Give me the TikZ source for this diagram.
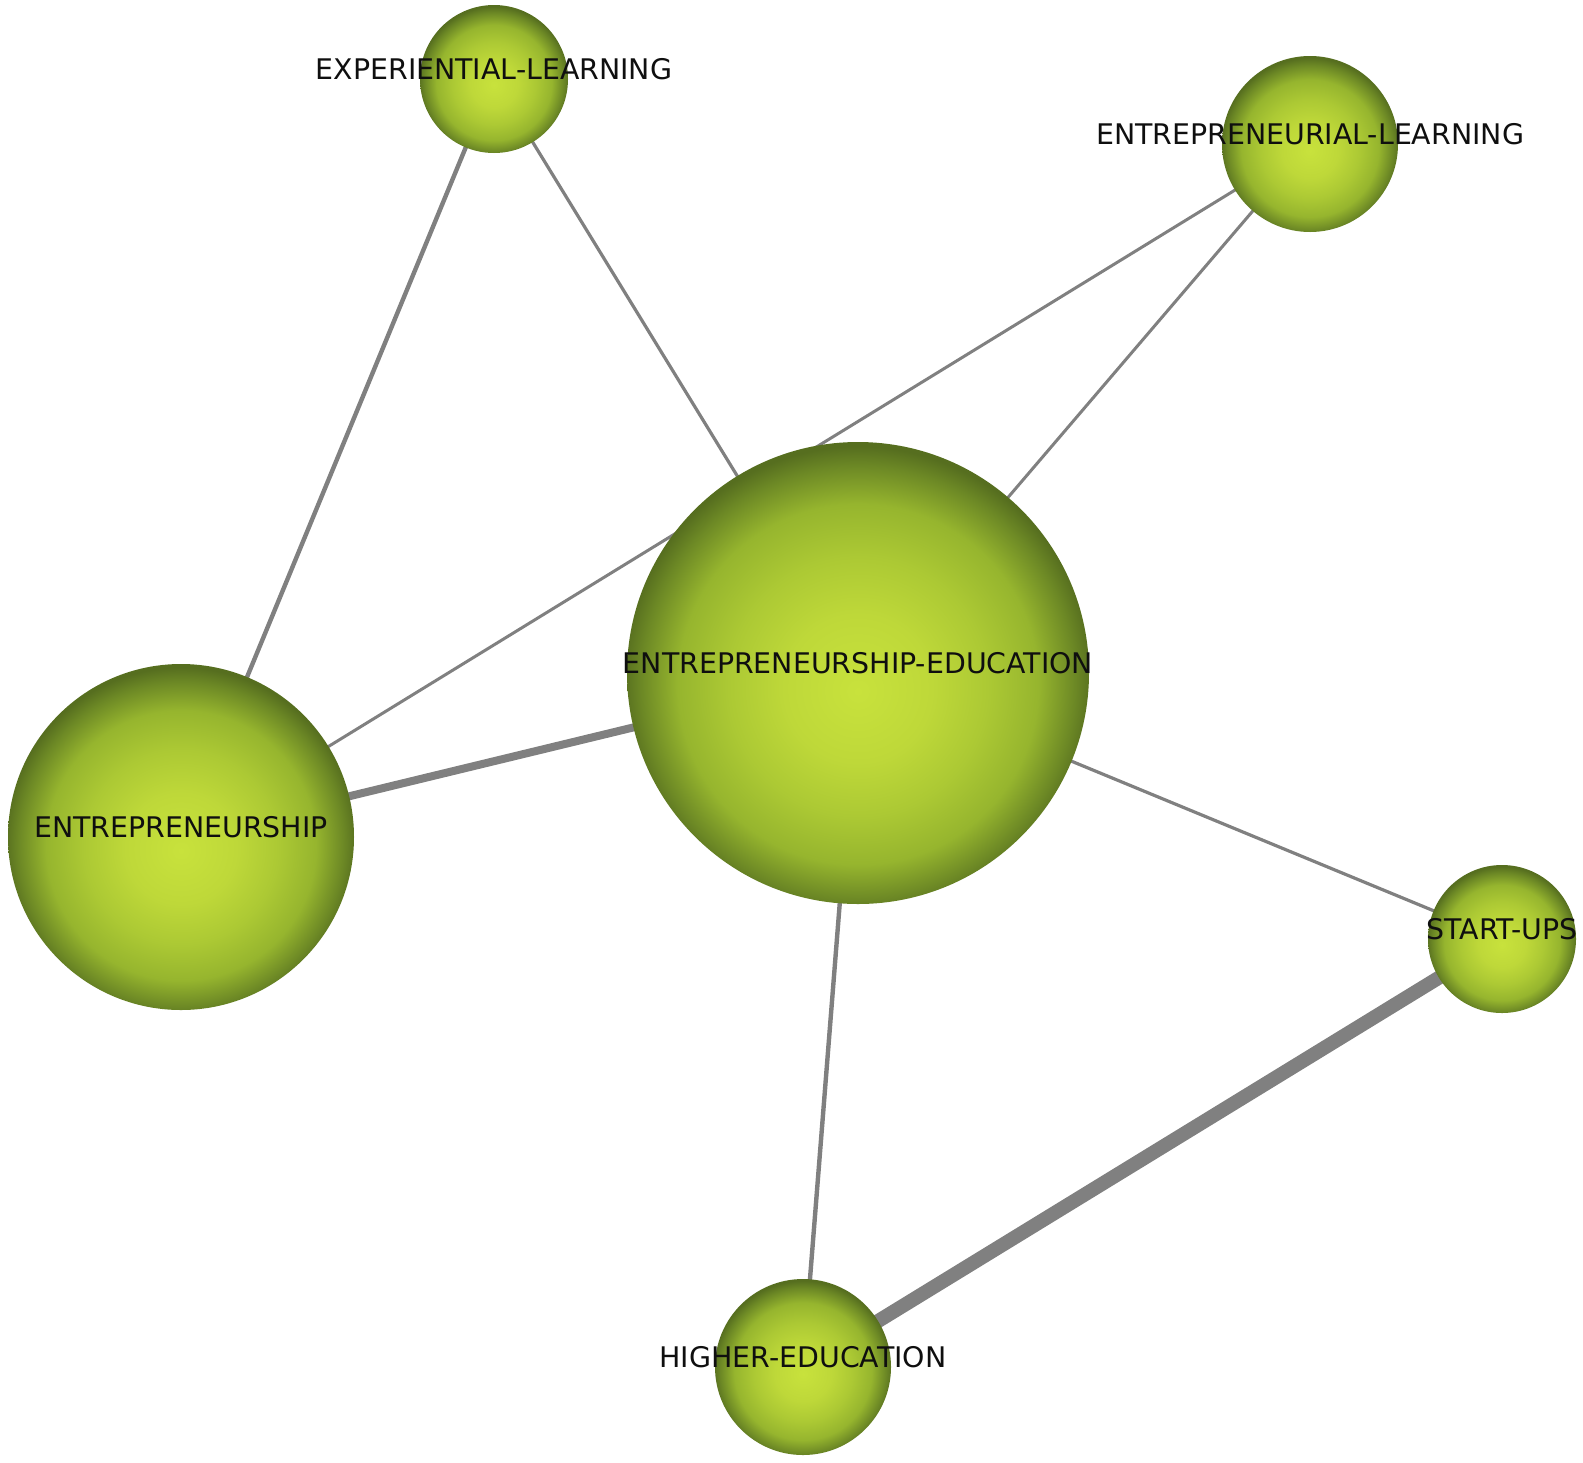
\documentclass[tikz,border=0pt]{standalone}
\usepackage{fontspec}
\setmainfont{DejaVu Sans}
\usetikzlibrary{backgrounds}
\definecolor{bcen}{RGB}{200,226,60}
\definecolor{bone}{RGB}{190,216,57}
\definecolor{bonefive}{RGB}{172,201,52}
\definecolor{btwo}{RGB}{150,181,46}
\definecolor{bthree}{RGB}{108,136,37}
\definecolor{bedge}{RGB}{86,110,31}
\definecolor{edgegray}{RGB}{128,128,128}
\definecolor{labelink}{RGB}{15,15,15}
\pgfdeclareradialshading{ballshade}{\pgfpoint{0bp}{-2bp}}{color(0bp)=(bcen); color(8bp)=(bone); color(14bp)=(bonefive); color(19.5bp)=(btwo); color(23.5bp)=(bthree); color(25.5bp)=(bedge); color(50bp)=(bedge)}
\tikzset{
  ball/.style={circle, inner sep=0pt, outer sep=0pt, shading=ballshade},
  lab/.style={anchor=base, inner sep=0pt, text=labelink, font=\fontsize{14.2pt}{16pt}\selectfont},
  link/.style={draw=edgegray, line cap=butt}
}
\begin{document}
\begin{tikzpicture}[x=0.5pt, y=-0.5pt]
\path[use as bounding box] (0,0) rectangle (1583,1462);
% nodes
\node[ball, minimum size=74pt]  (exp)   at (494,79)   {};
\node[ball, minimum size=88pt]  (entl)  at (1310,144) {};
\node[ball, minimum size=231pt] (ee)    at (858,673)  {};
\node[ball, minimum size=173pt] (entre) at (181,837)  {};
\node[ball, minimum size=74pt]  (start) at (1502,939) {};
\node[ball, minimum size=88pt]  (high)  at (803,1367) {};
% labels
\node[lab] (exp-t)   at (exp.center)   {EXPERIENTIAL-LEARNING};
\node[lab] (entl-t)  at (entl.center)  {ENTREPRENEURIAL-LEARNING};
\node[lab] (ee-t)    at (ee.center)    {ENTREPRENEURSHIP-EDUCATION};
\node[lab] (entre-t) at (entre.center) {ENTREPRENEURSHIP};
\node[lab] (start-t) at (start.center) {START-UPS};
\node[lab] (high-t)  at (high.center)  {HIGHER-EDUCATION};
% connectors
\begin{scope}[on background layer]
\draw[link, line width=2.2pt]  (exp.center)   -- (entre.center);
\draw[link, line width=1.6pt]  (exp.center)   -- (ee.center);
\draw[link, line width=1.5pt]  (entl.center)  -- (ee.center);
\draw[link, line width=1.5pt]  (entl.center)  -- (entre.center);
\draw[link, line width=4pt]    (entre.center) -- (ee.center);
\draw[link, line width=1.6pt]  (ee.center)    -- (start.center);
\draw[link, line width=2.2pt]  (ee.center)    -- (high.center);
\draw[link, line width=7pt]    (start.center) -- (high.center);
\end{scope}
\end{tikzpicture}
\end{document}
